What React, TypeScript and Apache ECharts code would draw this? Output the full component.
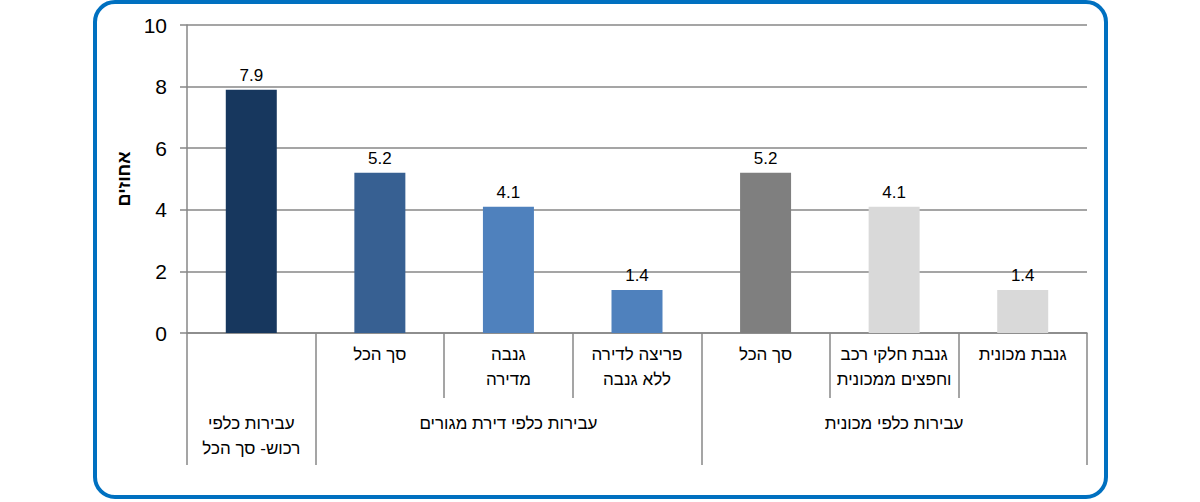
import React, { useEffect, useRef } from "react";
import * as echarts from "echarts";

const categories = [
  "",
  "סך הכל",
  "גנבה\nמדירה",
  "פריצה לדירה\nללא גנבה",
  "סך הכל",
  "גנבת חלקי רכב\nוחפצים ממכונית",
  "גנבת מכונית",
];
const groupLabels = [
  "עבירות כלפי\nרכוש- סך הכל",
  "",
  "עבירות כלפי דירת מגורים",
  "",
  "",
  "עבירות כלפי מכונית",
  "",
];
const groupStartIndices = [0, 1, 4];
const values = [7.9, 5.2, 4.1, 1.4, 5.2, 4.1, 1.4];
const barColors = ["#17375E", "#376092", "#4F81BD", "#4F81BD", "#7F7F7F", "#D9D9D9", "#D9D9D9"];
const yTicks = { min: 0, max: 10, interval: 2 };
const yAxisName = "אחוזים";

const FONT = "'Liberation Sans', 'DejaVu Sans', sans-serif";
const GRAY = "#878787";

export default function App() {
  const ref = useRef<HTMLDivElement>(null);
  useEffect(() => {
    if (!ref.current) return;
    const chart = echarts.init(ref.current, null, { renderer: "svg" });
    chart.setOption({
      animation: false,
      backgroundColor: "#fff",
      textStyle: { fontFamily: FONT },
      graphic: [
        {
          type: "rect",
          shape: { x: 95, y: 2, width: 1011, height: 495, r: 20 },
          style: { fill: "none", stroke: "#0070C0", lineWidth: 4 },
          z: 100,
        },
      ],
      grid: { left: 187, right: 113, top: 25, bottom: 169 },
      xAxis: [
        {
          type: "category",
          data: categories,
          position: "bottom",
          axisLine: { show: true, lineStyle: { color: GRAY, width: 1.5 } },
          axisTick: { show: true, length: 65, interval: 0, lineStyle: { color: GRAY, width: 1.5 } },
          axisLabel: {
            interval: 0,
            margin: 9,
            color: "#000",
            fontSize: 17,
            lineHeight: 25,
            fontFamily: FONT,
            verticalAlign: "top",
          },
          splitLine: { show: false },
        },
        {
          type: "category",
          data: groupLabels,
          position: "bottom",
          offset: 65,
          axisLine: { show: false },
          axisTick: {
            show: true,
            length: 67,
            interval: (i: number) => groupStartIndices.indexOf(i) >= 0,
            lineStyle: { color: GRAY, width: 1.5 },
          },
          axisLabel: {
            interval: 0,
            margin: 13,
            color: "#000",
            fontSize: 17,
            lineHeight: 25,
            fontFamily: FONT,
            verticalAlign: "top",
          },
          splitLine: { show: false },
        },
      ],
      yAxis: {
        type: "value",
        min: yTicks.min,
        max: yTicks.max,
        interval: yTicks.interval,
        name: yAxisName,
        nameLocation: "middle",
        nameRotate: 90,
        nameGap: 48,
        nameTextStyle: { fontSize: 18, fontWeight: "bold", color: "#000", fontFamily: FONT },
        axisLine: { show: true, lineStyle: { color: GRAY, width: 1.5 } },
        axisTick: { show: true, length: 7, lineStyle: { color: GRAY, width: 1.5 } },
        axisLabel: { color: "#000", fontSize: 21, margin: 20, fontFamily: FONT },
        splitLine: { show: true, lineStyle: { color: GRAY, width: 1.5 } },
      },
      series: [
        {
          type: "bar",
          xAxisIndex: 0,
          barWidth: 51,
          data: values.map((v, i) => ({ value: v, itemStyle: { color: barColors[i] } })),
          label: {
            show: true,
            position: "top",
            distance: 6,
            color: "#000",
            fontSize: 17,
            fontFamily: FONT,
            formatter: (p: any) => Number(p.value).toFixed(1),
          },
        },
      ],
    });
    return () => chart.dispose();
  }, []);
  return (
    <div
      ref={ref}
      style={{ position: "absolute", left: 0, top: 0, width: 1200, height: 502 }}
    />
  );
}
